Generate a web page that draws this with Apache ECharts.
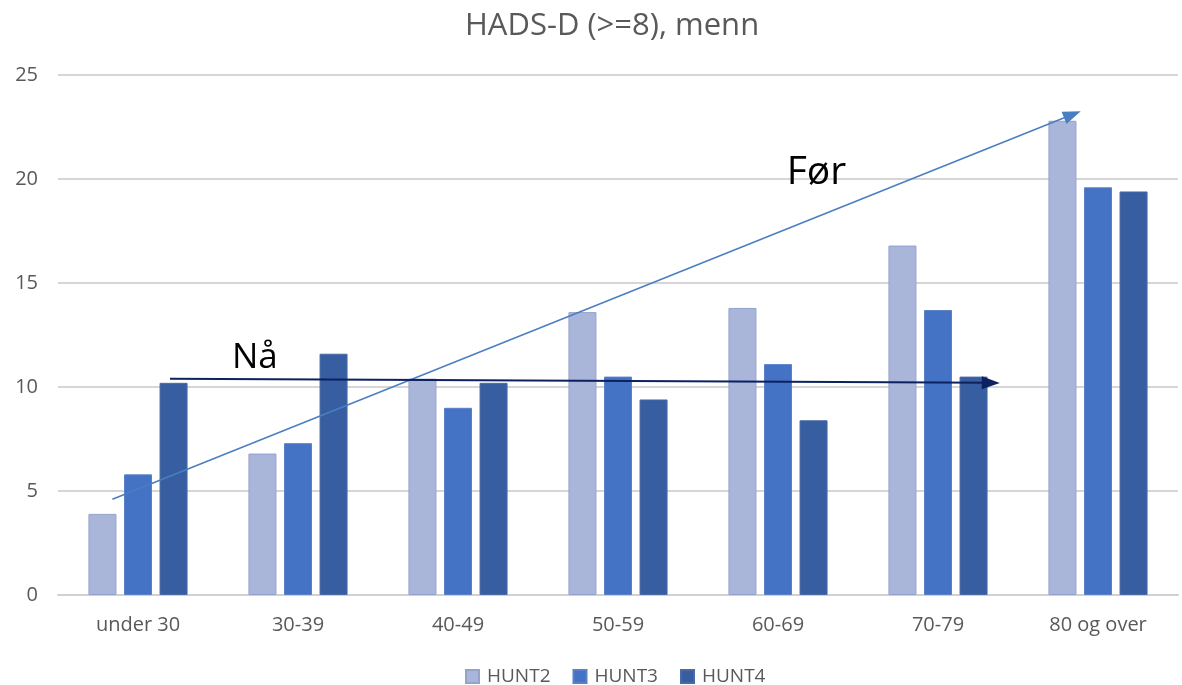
<!DOCTYPE html>
<html>
<head>
<meta charset="utf-8">
<script src="https://cdn.jsdelivr.net/npm/echarts@6/dist/echarts.min.js"></script>
<style>
  html, body { margin: 0; padding: 0; background: #fff; }
  #chart { width: 1182px; height: 685px; }
</style>
</head>
<body>
<div id="chart"></div>
<script>
// kategorier og verdier
var ageGroups = ['under 30', '30-39', '40-49', '50-59', '60-69', '70-79', '80 og over'];
var hunt2 = [3.9, 6.8, 10.4, 13.6, 13.8, 16.8, 22.8];
var hunt3 = [5.8, 7.3, 9.0, 10.5, 11.1, 13.7, 19.6];
var hunt4 = [10.2, 11.6, 10.2, 9.4, 8.4, 10.5, 19.4];
var yTicks = [0, 5, 10, 15, 20, 25];

// piler (kategori-indeks, verdi)
var forArrow = [[-0.16, 4.6], [5.84, 23.1]];
var naArrow = [[0.2, 10.4], [5.33, 10.2]];
var forLabel = [4.24, 20.3];
var naLabel = [0.73, 11.4];

var fontFam = '"Open Sans", "Liberation Sans", sans-serif';
var chart = echarts.init(document.getElementById('chart'));

var option = {
    animation: false,
    title: {
        text: 'HADS-D (>=8), menn',
        left: 460,
        top: 6,
        textStyle: { color: '#595959', fontSize: 31, fontWeight: 'normal', fontFamily: fontFam }
    },
    legend: {
        bottom: -6,
        left: 460,
        itemWidth: 13,
        itemHeight: 13,
        itemGap: 22,
        icon: 'rect',
        data: ['HUNT2', 'HUNT3', 'HUNT4'],
        textStyle: { color: '#595959', fontSize: 19, fontFamily: fontFam, padding: [0, 0, 0, 3] }
    },
    grid: { left: 58, right: 4, top: 75, bottom: 90 },
    xAxis: [
        {
            type: 'category',
            data: ageGroups,
            axisTick: { show: false },
            axisLine: { lineStyle: { color: '#d0d0d0', width: 2 } },
            axisLabel: { color: '#595959', fontSize: 20, margin: 20, fontFamily: fontFam }
        },
        {
            // skjult akse for pilene
            type: 'value',
            min: -0.5,
            max: 6.5,
            show: false
        }
    ],
    yAxis: {
        type: 'value',
        min: yTicks[0],
        max: yTicks[yTicks.length - 1],
        interval: 5,
        axisLine: { show: false },
        axisTick: { show: false },
        axisLabel: { color: '#595959', fontSize: 20, margin: 20, fontFamily: fontFam },
        splitLine: { lineStyle: { color: '#d6d6d6', width: 2 } }
    },
    series: [
        {
            name: 'HUNT2', type: 'bar', data: hunt2,
            barWidth: 28, barGap: '27%',
            itemStyle: { color: '#a9b6d9', borderColor: '#94a3cc', borderWidth: 1 }
        },
        {
            name: 'HUNT3', type: 'bar', data: hunt3,
            barWidth: 28, barGap: '27%',
            itemStyle: { color: '#4472c4', borderColor: '#5a80c8', borderWidth: 1 }
        },
        {
            name: 'HUNT4', type: 'bar', data: hunt4,
            barWidth: 28, barGap: '27%',
            itemStyle: { color: '#365ea0', borderColor: '#4a6aa5', borderWidth: 1 }
        },
        {
            type: 'line',
            xAxisIndex: 1,
            data: [],
            silent: true,
            markLine: {
                silent: true,
                symbol: ['none', 'triangle'],
                symbolSize: [13, 18],
                label: { show: false },
                data: [
                    [
                        { coord: forArrow[0], lineStyle: { color: '#4a7ec2', width: 1.5, type: 'solid' } },
                        { coord: forArrow[1], lineStyle: { color: '#4a7ec2', width: 1.5, type: 'solid' }, itemStyle: { color: '#4a7ec2' } }
                    ],
                    [
                        { coord: naArrow[0], lineStyle: { color: '#0b2160', width: 2, type: 'solid' } },
                        { coord: naArrow[1], lineStyle: { color: '#0b2160', width: 2, type: 'solid' }, itemStyle: { color: '#0b2160' } }
                    ]
                ]
            },
            markPoint: {
                silent: true,
                symbol: 'circle',
                symbolSize: 0,
                label: { show: true, color: '#000', fontFamily: fontFam },
                data: [
                    { coord: forLabel, value: 'Før', label: { formatter: 'Før', fontSize: 39 } },
                    { coord: naLabel, value: 'Nå', label: { formatter: 'Nå', fontSize: 35 } }
                ]
            }
        }
    ]
};

chart.setOption(option);
</script>
</body>
</html>
